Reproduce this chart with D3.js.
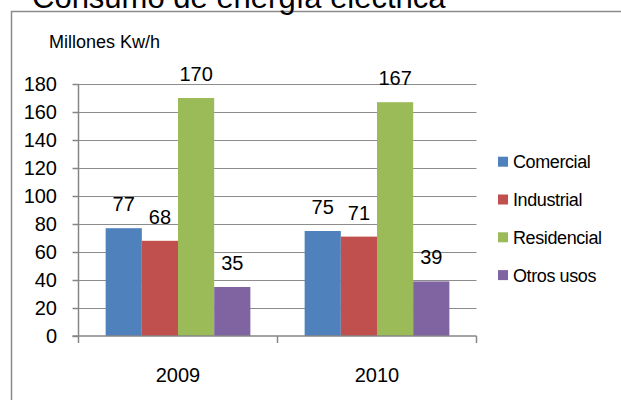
<!DOCTYPE html>
<html>
<head>
<meta charset="utf-8">
<script src="https://cdn.jsdelivr.net/npm/d3@7"></script>
<style>
  body { margin: 0; background: #fff; }
  svg { display: block; font-family: "Liberation Sans", Arial, sans-serif; }
</style>
</head>
<body>
<svg id="chart" width="621" height="400"></svg>
<script>
const title = "Consumo de energía eléctrica";
const yTitle = "Millones Kw/h";
const years = ["2009", "2010"];
const series = ["Comercial", "Industrial", "Residencial", "Otros usos"];
const colors = ["#4F81BD", "#C0504D", "#9BBB59", "#8064A2"];
const comercial = [77, 75];
const industrial = [68, 71];
const residencial = [170, 167];
const otrosUsos = [35, 39];
const yTicks = [0, 20, 40, 60, 80, 100, 120, 140, 160, 180];

const valuesBySeries = [comercial, industrial, residencial, otrosUsos];
const data = years.map((yr, i) => ({
  year: yr,
  vals: series.map((s, j) => ({ series: s, value: valuesBySeries[j][i], color: colors[j] }))
}));

const svg = d3.select("#chart");
const plotLeft = 78.5, plotRight = 476.5, plotTop = 84, plotBottom = 336;

// chart border
svg.append("rect").attr("x", 11.5).attr("y", 11.5).attr("width", 700).attr("height", 500)
  .attr("fill", "none").attr("stroke", "#8a8a8a").attr("stroke-width", 1.5);

// title (clipped at top as in reference)
svg.append("text").attr("x", 32).attr("y", 8).attr("font-size", 31).attr("fill", "#000").text(title);

// y title
svg.append("text").attr("x", 49).attr("y", 48).attr("font-size", 18).attr("fill", "#000").text(yTitle);

const y = d3.scaleLinear().domain([0, 180]).range([plotBottom, plotTop]);
const x0 = d3.scaleBand().domain(years).range([plotLeft, plotRight]).paddingInner(0).paddingOuter(0);
const x1 = d3.scaleBand().domain(series).range([0, x0.bandwidth()]).paddingInner(0).paddingOuter(0.75);

// gridlines
svg.append("g").selectAll("line").data(yTicks.filter(t => t > 0)).join("line")
  .attr("x1", plotLeft).attr("x2", plotRight)
  .attr("y1", d => Math.round(y(d)) + 0.5).attr("y2", d => Math.round(y(d)) + 0.5)
  .attr("stroke", "#8c8c8c").attr("stroke-width", 1.2);

// bars
const groups = svg.append("g").selectAll("g").data(data).join("g")
  .attr("transform", d => `translate(${x0(d.year)},0)`);
groups.selectAll("rect").data(d => d.vals).join("rect")
  .attr("x", d => x1(d.series)).attr("width", x1.bandwidth())
  .attr("y", d => y(d.value)).attr("height", d => y(0) - y(d.value))
  .attr("fill", d => d.color);
groups.selectAll("text").data(d => d.vals).join("text")
  .attr("x", d => x1(d.series) + x1.bandwidth() / 2)
  .attr("y", d => y(d.value) - 17)
  .attr("text-anchor", "middle").attr("font-size", 20).attr("fill", "#000")
  .text(d => d.value);

// y axis
const yAxis = svg.append("g").attr("transform", `translate(${plotLeft},0)`)
  .call(d3.axisLeft(y).tickValues(yTicks).tickSize(6).tickPadding(15.5));
yAxis.select(".domain").remove();
yAxis.selectAll(".tick line").attr("stroke", "#868686").attr("stroke-width", 1.5);
yAxis.selectAll(".tick text").attr("font-size", 20).attr("fill", "#000")
  .attr("font-family", "'Liberation Sans', Arial, sans-serif");

// axis lines
svg.append("line").attr("x1", plotLeft).attr("x2", plotLeft).attr("y1", plotTop).attr("y2", plotBottom + 7)
  .attr("stroke", "#868686").attr("stroke-width", 1.5);
svg.append("line").attr("x1", plotLeft - 6).attr("x2", plotRight).attr("y1", plotBottom).attr("y2", plotBottom)
  .attr("stroke", "#868686").attr("stroke-width", 1.5);

// x axis
const xAxis = svg.append("g").attr("transform", `translate(0,${plotBottom})`)
  .call(d3.axisBottom(x0).tickSize(0).tickPadding(0));
xAxis.select(".domain").remove();
xAxis.selectAll(".tick text").attr("font-size", 20).attr("fill", "#000")
  .attr("dy", null).attr("y", 46)
  .attr("font-family", "'Liberation Sans', Arial, sans-serif");
const boundaries = years.map(yr => x0(yr)).concat([x0(years[years.length - 1]) + x0.bandwidth()]);
svg.append("g").selectAll("line").data(boundaries.slice(1)).join("line")
  .attr("x1", d => d).attr("x2", d => d).attr("y1", plotBottom).attr("y2", plotBottom + 7)
  .attr("stroke", "#868686").attr("stroke-width", 1.5);

// legend
const legend = svg.append("g").selectAll("g").data(series).join("g")
  .attr("transform", (d, i) => `translate(498,${161.7 + i * 37.8})`);
legend.append("rect").attr("x", 0).attr("y", -5).attr("width", 10).attr("height", 10)
  .attr("fill", (d, i) => colors[i]);
legend.append("text").attr("x", 15).attr("y", 6.5).attr("font-size", 18)
  .attr("letter-spacing", -0.4).attr("fill", "#000").text(d => d);
</script>
</body>
</html>
